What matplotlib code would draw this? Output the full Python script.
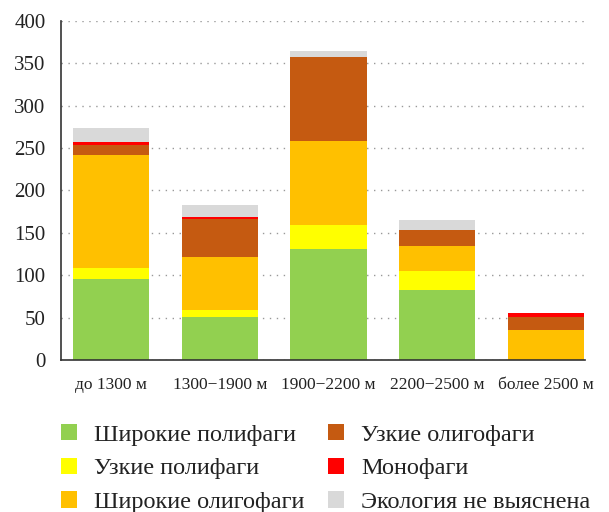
import matplotlib
matplotlib.use("Agg")
import matplotlib.pyplot as plt
import numpy as np
from matplotlib.patches import Patch

categories = ["до 1300 м", "1300−1900 м", "1900−2200 м", "2200−2500 м", "более 2500 м"]
series_names = ["Широкие полифаги", "Узкие полифаги", "Широкие олигофаги",
                "Узкие олигофаги", "Монофаги", "Экология не выяснена"]
wide_poly = [96, 51, 131, 82, 0]
narrow_poly = [12, 8, 28, 23, 0]
wide_oligo = [134, 63, 99, 30, 35]
narrow_oligo = [12, 44, 99, 18, 16]
mono = [3, 3, 0, 0, 4]
unknown = [17, 14, 8, 12, 0]
colors = ["#92D050", "#FFFF00", "#FFC000", "#C55A11", "#FF0000", "#D9D9D9"]

plt.rcParams['font.family'] = ['Liberation Serif', 'DejaVu Serif']

fig = plt.figure(figsize=(6.09, 5.12), dpi=100)
ax = fig.add_axes([0.100, 0.297, 0.861, 0.662])

x = np.arange(len(categories))
bottom = np.zeros(len(categories))
for vals, col in zip([wide_poly, narrow_poly, wide_oligo, narrow_oligo, mono, unknown], colors):
    ax.bar(x, vals, width=0.70, bottom=bottom, color=col, zorder=2, linewidth=0)
    bottom += np.array(vals)

ax.set_xlim(-0.46, 4.36)
ax.set_ylim(0, 400)
ax.set_yticks(np.arange(0, 401, 50))
ax.set_xticks(x)
ax.set_xticklabels(categories, fontsize=12.5, color="#222222")
ax.tick_params(axis='y', length=0, pad=11, labelsize=15, labelcolor="#222222")
ax.tick_params(axis='x', length=0, pad=12)
ax.yaxis.grid(True, linestyle=(0, (1, 4)), color="#999999", linewidth=1, zorder=0)
ax.set_axisbelow(True)
for s in ["top", "right"]:
    ax.spines[s].set_visible(False)
ax.spines["left"].set_color("#333333")
ax.spines["bottom"].set_color("#333333")
ax.spines["left"].set_linewidth(1.2)
ax.spines["bottom"].set_linewidth(1.2)

handles = [Patch(facecolor=c, edgecolor='none') for c in colors]
fig.legend(handles, series_names, ncol=2, loc='upper left', bbox_to_anchor=(0.100, 0.172),
           frameon=False, fontsize=17.5, handlelength=0.66, handleheight=0.66,
           handletextpad=0.72, columnspacing=0.95, labelspacing=0.49,
           borderpad=0, borderaxespad=0, labelcolor="#222222")

fig.savefig("out.png", dpi=100)
